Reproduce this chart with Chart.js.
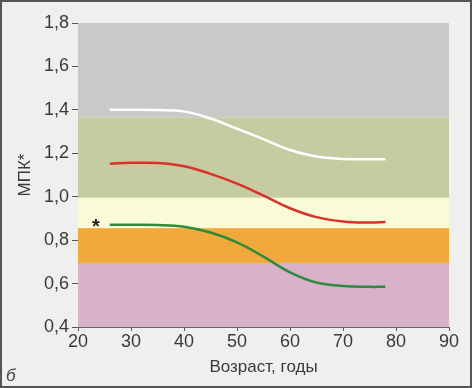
<!DOCTYPE html>
<html>
<head>
<meta charset="utf-8">
<script src="https://cdn.jsdelivr.net/npm/chart.js@4/dist/chart.umd.min.js"></script>
<style>
  body { margin:0; background:#efefed; }
  #wrap { width:472px; height:388px; }
</style>
</head>
<body>
<div id="wrap"><canvas id="bmd" width="472" height="388"></canvas></div>
<script>
// возраст, годы
var ages = [26, 30, 35, 40, 45, 50, 55, 60, 65, 70, 75, 78];
// МПК по кривым
var upperLine = [1.40, 1.40, 1.399, 1.393, 1.36, 1.313, 1.265, 1.215, 1.185, 1.174, 1.172, 1.173];
var middleLine = [1.152, 1.156, 1.155, 1.14, 1.105, 1.06, 1.005, 0.947, 0.906, 0.886, 0.881, 0.883];
var lowerLine = [0.871, 0.871, 0.870, 0.862, 0.835, 0.79, 0.724, 0.652, 0.605, 0.589, 0.585, 0.585];
// цветные зоны (границы МПК)
var bandEdges = [1.8, 1.365, 0.995, 0.855, 0.695, 0.4];
var bandColors = ['#c9c9c8', '#c6cca2', '#f8fbd6', '#f1a93b', '#dab1cb'];
var xTicks = [20, 30, 40, 50, 60, 70, 80, 90];

function pts(vals) {
  var out = [];
  for (var i = 0; i < ages.length; i++) out.push({x: ages[i], y: vals[i]});
  return out;
}

var bandsPlugin = {
  id: 'bands',
  beforeDraw: function(chart) {
    var c = chart.ctx;
    c.save();
    c.fillStyle = '#efefed';
    c.fillRect(0, 0, chart.width, chart.height);
    c.restore();
  },
  beforeDatasetsDraw: function(chart) {
    var c = chart.ctx, xs = chart.scales.x, ys = chart.scales.y;
    var l = xs.getPixelForValue(20), r = xs.getPixelForValue(90);
    c.save();
    for (var i = 0; i < bandColors.length; i++) {
      var t = ys.getPixelForValue(bandEdges[i]);
      var b = ys.getPixelForValue(bandEdges[i + 1]);
      c.fillStyle = bandColors[i];
      c.fillRect(l, t, r - l, b - t);
    }
    c.restore();
  },
  afterDraw: function(chart) {
    var c = chart.ctx, xs = chart.scales.x, ys = chart.scales.y;
    c.save();
    // звёздочка у нижней кривой
    c.fillStyle = '#222';
    c.font = 'bold 20px "Liberation Sans", Arial';
    c.textAlign = 'center';
    c.textBaseline = 'middle';
    c.fillText('*', xs.getPixelForValue(ages[0]) - 14, ys.getPixelForValue(lowerLine[0]) + 3);
    // буква панели
    c.font = 'italic 17px "Liberation Sans", Arial';
    c.fillStyle = '#444';
    c.textAlign = 'left';
    c.fillText('б', 6, 376);
    // рамка
    c.strokeStyle = '#555';
    c.lineWidth = 2;
    c.strokeRect(1, 1, chart.width - 2, chart.height - 2);
    c.restore();
  }
};

function line(vals, col) {
  return {
    data: pts(vals),
    borderColor: col,
    borderWidth: 2.5,
    pointRadius: 0,
    fill: false,
    tension: 0.4
  };
}

new Chart(document.getElementById('bmd'), {
  type: 'line',
  data: {
    datasets: [
      line(upperLine, '#ffffff'),
      line(middleLine, '#d9322b'),
      line(lowerLine, '#2f8a3c')
    ]
  },
  options: {
    responsive: false,
    animation: false,
    layout: { padding: { top: 23, right: 23, left: 4, bottom: 10 } },
    plugins: { legend: { display: false }, tooltip: { enabled: false } },
    scales: {
      x: {
        type: 'linear', min: 20, max: 90,
        afterBuildTicks: function(s) { s.ticks = xTicks.map(function(v) { return {value: v}; }); },
        grid: { drawOnChartArea: false, tickLength: 4, color: '#555' },
        border: { color: '#666', width: 1 },
        ticks: { color: '#3a3a3a', font: { size: 18, family: '"Liberation Sans", Arial' }, padding: 0, maxRotation: 0 },
        title: { display: true, text: 'Возраст, годы', color: '#3a3a3a', font: { size: 17, family: '"Liberation Sans", Arial' }, padding: { top: 5, bottom: 0 } }
      },
      y: {
        min: 0.4, max: 1.8,
        afterFit: function(s) { s.width = 74; },
        grid: { drawOnChartArea: false, tickLength: 6, color: '#555' },
        border: { color: '#666', width: 1 },
        ticks: {
          stepSize: 0.2, color: '#3a3a3a', padding: 3,
          font: { size: 18, family: '"Liberation Sans", Arial' },
          callback: function(v) { return v.toFixed(1).replace('.', ','); }
        },
        title: { display: true, text: 'МПК*', color: '#3a3a3a', font: { size: 17, family: '"Liberation Sans", Arial' }, padding: { top: 11, bottom: 0 } }
      }
    }
  },
  plugins: [bandsPlugin]
});
</script>
</body>
</html>
